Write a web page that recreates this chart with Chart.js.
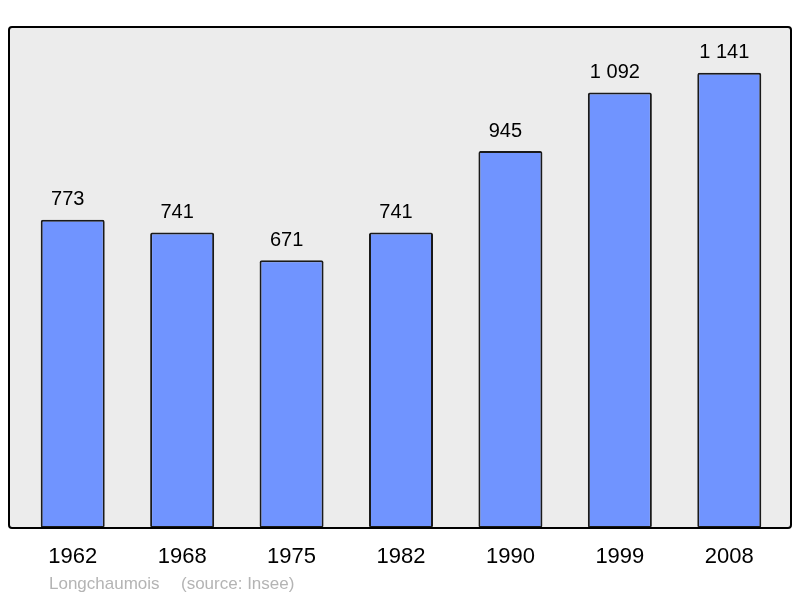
<!DOCTYPE html>
<html lang="en">
<head>
    <meta charset="UTF-8">
    <title>Longchaumois population</title>
    <script src="https://cdn.jsdelivr.net/npm/chart.js"></script>
    <style>
        body { margin: 0; background: #ffffff; }
        .wrap { width: 800px; height: 598px; }
    </style>
</head>
<body>
    <div class="wrap"><canvas id="popChart" width="800" height="598"></canvas></div>

    <script>
        // census years and population
        const years = ["1962", "1968", "1975", "1982", "1990", "1999", "2008"];
        const population = [773, 741, 671, 741, 945, 1092, 1141];
        const placeName = "Longchaumois";
        const sourceNote = "(source: Insee)";

        function spaced(n) {
            // french style thousands: 1 092
            return String(n).replace(/\B(?=(\d{3})+(?!\d))/g, " ");
        }

        // grey rounded frame behind the bars
        const framePlugin = {
            id: "frame",
            beforeDatasetsDraw(chart) {
                const a = chart.chartArea, c = chart.ctx;
                c.save();
                c.beginPath();
                c.roundRect(a.left - 9, a.top, a.right - a.left + 16, a.bottom - a.top, 3);
                c.fillStyle = "#ececec";
                c.fill();
                c.restore();
            },
            afterDatasetsDraw(chart) {
                const a = chart.chartArea, c = chart.ctx;
                c.save();
                c.beginPath();
                c.roundRect(a.left - 9, a.top, a.right - a.left + 16, a.bottom - a.top, 3);
                c.lineWidth = 2;
                c.strokeStyle = "#000000";
                c.stroke();
                c.restore();
            }
        };

        const labelPlugin = {
            id: "valueLabels",
            afterDraw(chart) {
                const c = chart.ctx;
                const meta = chart.getDatasetMeta(0);
                c.save();
                c.font = "20px 'Liberation Sans', Arial, sans-serif";
                c.fillStyle = "#000000";
                c.textAlign = "center";
                c.textBaseline = "middle";
                meta.data.forEach((bar, i) => {
                    c.fillText(spaced(population[i]), bar.x - 5, bar.y - 20);
                });
                c.font = "17px 'Liberation Sans', Arial, sans-serif";
                c.fillStyle = "#b4b4b4";
                c.textAlign = "left";
                c.fillText(placeName, 49, chart.height - 14);
                c.fillText(sourceNote, 181, chart.height - 14);
                c.restore();
            }
        };

        new Chart(document.getElementById("popChart"), {
            type: "bar",
            data: {
                labels: years,
                datasets: [{
                    data: population,
                    backgroundColor: "#7094ff",
                    borderColor: "#1a1a1a",
                    borderWidth: 2,
                    borderRadius: 2,
                    borderSkipped: false,
                    barPercentage: 0.585,
                    categoryPercentage: 1
                }]
            },
            options: {
                responsive: false,
                animation: false,
                devicePixelRatio: 1,
                layout: { padding: { left: 18, right: 16, top: 27, bottom: 0 } },
                plugins: {
                    legend: { display: false },
                    tooltip: { enabled: false }
                },
                scales: {
                    x: {
                        grid: { display: false },
                        border: { display: false },
                        ticks: {
                            color: "#000000",
                            padding: 8,
                            font: { family: "'Liberation Sans', Arial, sans-serif", size: 22 }
                        },
                        afterFit(s) { s.height = 70; }
                    },
                    y: {
                        display: false,
                        min: 0,
                        max: 1256
                    }
                }
            },
            plugins: [framePlugin, labelPlugin]
        });
    </script>
</body>
</html>
